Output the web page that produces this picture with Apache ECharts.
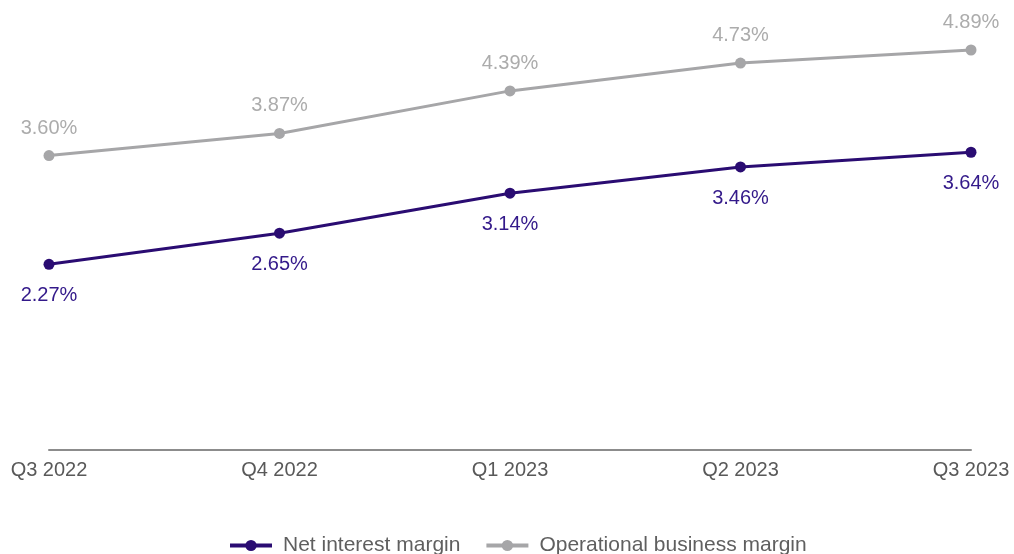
<!DOCTYPE html>
<html>
<head>
<meta charset="utf-8">
<script src="https://cdn.jsdelivr.net/npm/echarts@6/dist/echarts.min.js"></script>
<style>
  html, body { margin: 0; padding: 0; background: #ffffff; }
  #chart { width: 1014px; height: 554px; }
</style>
</head>
<body>
<div id="chart"></div>
<script>
// Quarterly margins, in percent
const quarters = ['Q3 2022', 'Q4 2022', 'Q1 2023', 'Q2 2023', 'Q3 2023'];
const netInterestMargin = [2.27, 2.65, 3.14, 3.46, 3.64];
const operationalBusinessMargin = [3.60, 3.87, 4.39, 4.73, 4.89];
const seriesNames = ['Net interest margin', 'Operational business margin'];

const purple = '#2a0c72';
const grey = '#a6a6a8';
const font = '"Liberation Sans", Arial, sans-serif';

const chart = echarts.init(document.getElementById('chart'), null, { renderer: 'canvas' });

function pct(p) { return p.value.toFixed(2) + '%'; }

chart.setOption({
  animation: false,
  grid: { left: 49, right: 43, top: 41, bottom: 104, containLabel: false },
  legend: {
    top: 530,
    left: 223,
    itemWidth: 42,
    itemHeight: 14,
    itemGap: 24,
    lineStyle: { width: 4 },
    textStyle: { fontFamily: font, fontSize: 21, color: '#5f5f5f', padding: [0, 0, 0, 6] },
    data: seriesNames
  },
  xAxis: {
    type: 'category',
    data: quarters,
    boundaryGap: false,
    axisLine: { lineStyle: { color: '#8c8c8c', width: 2 } },
    axisTick: { show: false },
    axisLabel: { fontFamily: font, fontSize: 20, color: '#595959', margin: 10 }
  },
  yAxis: {
    type: 'value',
    min: 0,
    max: 5,
    show: false,
    splitLine: { show: false }
  },
  series: [
    {
      name: seriesNames[0],
      type: 'line',
      data: netInterestMargin,
      symbol: 'circle',
      symbolSize: 11,
      itemStyle: { color: purple },
      lineStyle: { color: purple, width: 3 },
      label: {
        show: true,
        position: 'bottom',
        distance: 16,
        formatter: pct,
        fontFamily: font,
        fontSize: 20,
        color: '#33198a'
      }
    },
    {
      name: seriesNames[1],
      type: 'line',
      data: operationalBusinessMargin,
      symbol: 'circle',
      symbolSize: 11,
      itemStyle: { color: grey },
      lineStyle: { color: grey, width: 3 },
      label: {
        show: true,
        position: 'top',
        distance: 12,
        formatter: pct,
        fontFamily: font,
        fontSize: 20,
        color: '#acacac'
      }
    }
  ]
});
</script>
</body>
</html>
